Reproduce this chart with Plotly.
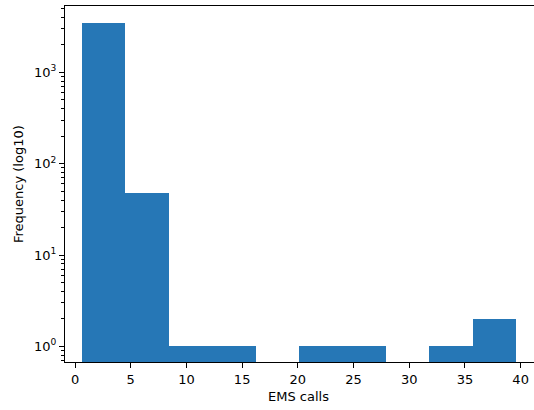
import plotly.graph_objects as go

# Histogram data
bin_edges = [0.6, 4.5, 8.4, 12.3, 16.2, 20.1, 24.0, 27.9, 31.8, 35.7, 39.6]
counts = [3470, 48, 1, 1, 0, 1, 1, 0, 1, 2]

x_ticks = [0, 5, 10, 15, 20, 25, 30, 35, 40]
y_major = [1, 10, 100, 1000]
y_major_text = ["10<sup>0</sup>", "10<sup>1</sup>", "10<sup>2</sup>", "10<sup>3</sup>"]

centers = [(a + b) / 2 for a, b in zip(bin_edges[:-1], bin_edges[1:])]
widths = [b - a for a, b in zip(bin_edges[:-1], bin_edges[1:])]
xs = [c for c, n in zip(centers, counts) if n > 0]
ws = [w for w, n in zip(widths, counts) if n > 0]
ys = [n for n in counts if n > 0]

minor_vals = []
for dec in [0.1, 1, 10, 100, 1000]:
    for m in range(2, 10):
        minor_vals.append(dec * m)

fig = go.Figure(go.Bar(
    x=xs, y=ys, width=ws,
    marker=dict(color="#2677b6", line=dict(width=0)),
))

font = dict(family="DejaVu Sans", size=13, color="black")

fig.update_layout(
    width=534, height=410,
    margin=dict(l=65, r=0, t=6, b=48, autoexpand=False),
    plot_bgcolor="white", paper_bgcolor="white",
    showlegend=False, bargap=0,
    font=font,
    annotations=[
        dict(text="EMS calls", xref="paper", yref="paper", x=0.5, y=0,
             xshift=-1, yshift=-34, showarrow=False, font=font, yanchor="middle"),
        dict(text="Frequency (log10)", xref="paper", yref="paper", x=0, y=0.5,
             xshift=-47, showarrow=False, font=font, textangle=-90,
             xanchor="center", yanchor="middle"),
    ],
)

fig.update_xaxes(
    range=[-0.9, 41.2], tickvals=x_ticks, ticks="outside", ticklen=5,
    tickwidth=1, tickcolor="black", showline=True, linecolor="black",
    linewidth=1, mirror=True, showgrid=False, zeroline=False,
    tickfont=font, automargin=False,
)
fig.update_yaxes(
    type="log", range=[-0.171, 3.727], tickvals=y_major, ticktext=y_major_text,
    ticks="outside", ticklen=5, tickwidth=1, tickcolor="black",
    showline=True, linecolor="black", linewidth=1, mirror=True,
    showgrid=False, zeroline=False, tickfont=font, automargin=False,
    minor=dict(tickvals=minor_vals, ticks="outside", ticklen=3,
               tickwidth=1, tickcolor="black", showgrid=False),
)

fig.write_html(
    "out.html",
    config={"displayModeBar": False},
    post_script="document.body.style.margin='0';document.body.style.padding='0';",
)
